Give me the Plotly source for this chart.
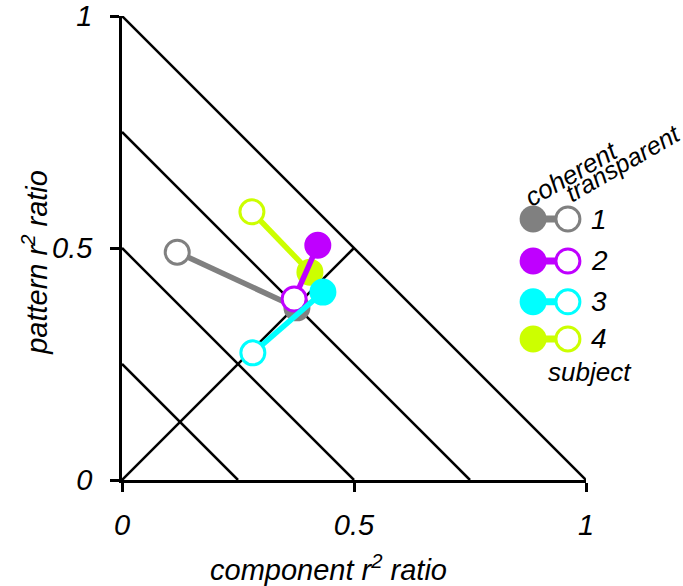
import plotly.graph_objects as go

# Subject ratios: (component r^2 ratio, pattern r^2 ratio)
subjects = ["1", "2", "3", "4"]
colors = ["#808080", "#bf00ff", "#00ffff", "#ccff00"]
coherent_x = [0.377, 0.422, 0.433, 0.405]
coherent_y = [0.371, 0.506, 0.405, 0.448]
transparent_x = [0.119, 0.371, 0.282, 0.280]
transparent_y = [0.491, 0.390, 0.274, 0.578]

# Reference diagonals x + y = level, and the y = x segment up to 0.5
sum_levels = [0.25, 0.5, 0.75, 1.0]
identity_end = 0.5

tick_vals = [0, 0.5, 1]
tick_text = ["0", "0.5", "1"]

FONT = "Liberation Sans"


def ifont(size):
    return dict(family=FONT, size=size, style="italic", color="black")


fig = go.Figure()

shapes = []
for lv in sum_levels:
    shapes.append(dict(type="line", xref="x", yref="y", x0=0, y0=lv, x1=lv, y1=0,
                       line=dict(color="black", width=2.5), layer="below"))
shapes.append(dict(type="line", xref="x", yref="y", x0=0, y0=0, x1=identity_end, y1=identity_end,
                   line=dict(color="black", width=2.5), layer="below"))

# Draw order: gray, lime, purple, cyan
order = [0, 3, 1, 2]
for i in order:
    fig.add_trace(go.Scatter(
        x=[coherent_x[i], transparent_x[i]],
        y=[coherent_y[i], transparent_y[i]],
        mode="lines+markers",
        line=dict(color=colors[i], width=5.5),
        marker=dict(size=24, color=[colors[i], "white"],
                    line=dict(color=colors[i], width=3)),
        showlegend=False, hoverinfo="skip", cliponaxis=False,
    ))

# Custom legend in paper coordinates
leg_fill_x = 0.886
leg_open_x = 0.961
leg_rows = [0.5625, 0.472, 0.384, 0.304]
annotations = []
for i, yy in enumerate(leg_rows):
    shapes.append(dict(type="line", xref="paper", yref="paper",
                       x0=leg_fill_x, x1=leg_open_x, y0=yy, y1=yy,
                       line=dict(color=colors[i], width=7)))
    shapes.append(dict(type="circle", xref="paper", yref="paper",
                       xsizemode="pixel", ysizemode="pixel",
                       xanchor=leg_fill_x, yanchor=yy,
                       x0=-13.5, x1=13.5, y0=-13.5, y1=13.5,
                       fillcolor=colors[i], line=dict(width=0)))
    shapes.append(dict(type="circle", xref="paper", yref="paper",
                       xsizemode="pixel", ysizemode="pixel",
                       xanchor=leg_open_x, yanchor=yy,
                       x0=-12, x1=12, y0=-12, y1=12,
                       fillcolor="white", line=dict(color=colors[i], width=3)))
    annotations.append(dict(xref="paper", yref="paper", x=1.006, y=yy,
                            xanchor="left", yanchor="middle", showarrow=False,
                            text=subjects[i], font=ifont(28)))

annotations += [
    dict(xref="paper", yref="paper", x=0.968, y=0.660, text="coherent", textangle=-30,
         xanchor="center", yanchor="middle", showarrow=False, font=ifont(26)),
    dict(xref="paper", yref="paper", x=1.079, y=0.683, text="transparent", textangle=-30,
         xanchor="center", yanchor="middle", showarrow=False, font=ifont(25)),
    dict(xref="paper", yref="paper", x=1.009, y=0.233, text="subject",
         xanchor="center", yanchor="middle", showarrow=False, font=ifont(26)),
    dict(xref="paper", yref="paper", x=0.444, y=-0.19, text="component r<sup>2</sup> ratio",
         xanchor="center", yanchor="middle", showarrow=False, font=ifont(29)),
    dict(xref="paper", yref="paper", x=-0.1875, y=0.468, text="pattern r<sup>2</sup> ratio",
         textangle=-90, xanchor="center", yanchor="middle", showarrow=False,
         font=ifont(29)),
]

axis_common = dict(
    range=[0, 1], tickvals=tick_vals, ticktext=tick_text,
    showgrid=False, zeroline=False, showline=True, linecolor="black", linewidth=2.5,
    ticks="outside", ticklen=9, tickwidth=2.5, tickcolor="black",
    tickfont=ifont(29), automargin=False, fixedrange=True,
)

fig.update_layout(
    width=683, height=586,
    margin=dict(l=122, r=97, t=16, b=106),
    paper_bgcolor="white", plot_bgcolor="white",
    xaxis=dict(**axis_common, ticklabelstandoff=8),
    yaxis=dict(**axis_common, ticklabelstandoff=12),
    shapes=shapes, annotations=annotations,
    showlegend=False,
)

fig.write_html("out.html")
